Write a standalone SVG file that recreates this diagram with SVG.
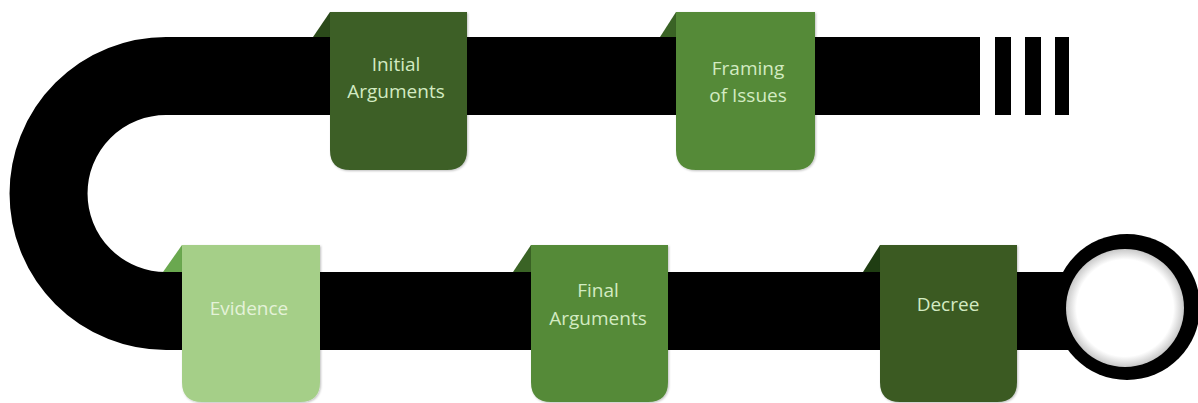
<svg xmlns="http://www.w3.org/2000/svg" width="1198" height="403" viewBox="0 0 1198 403">
<style>
.lbl{font-family:"Open Sans","Liberation Sans",sans-serif;font-size:19px;fill:#D3EBC2;text-anchor:middle}
.band{fill:none;stroke:#000;stroke-width:78}
</style>
<defs>
<radialGradient id="hole" cx="0.5" cy="0.5" r="0.5">
<stop offset="0.82" stop-color="#ffffff"/>
<stop offset="1" stop-color="#c8c8c8"/>
</radialGradient>
<filter id="sh" x="-10%" y="-10%" width="130%" height="130%">
<feDropShadow dx="1" dy="1" stdDeviation="1" flood-color="#000" flood-opacity="0.25"/>
</filter>
</defs>
<rect width="1198" height="403" fill="#fff"/>
<g id="track">
<path class="band" d="M980 76 H166 A117.5 117.5 0 0 0 166 311 H1080"/>
<rect x="995" y="37" width="16" height="78" fill="#000"/>
<rect x="1025" y="37" width="16" height="78" fill="#000"/>
<rect x="1055" y="37" width="14" height="78" fill="#000"/>
<circle cx="1127" cy="307" r="73" fill="#000"/>
<circle cx="1125" cy="308" r="59" fill="url(#hole)"/>
</g>
<g id="initial-arguments">
<polygon points="313,37 330,12 330,37" fill="#2B4A1A"/>
<path d="M330 12 H467 V150 Q467 170 447 170 H350 Q330 170 330 150 Z" fill="#3E5F28" filter="url(#sh)"/>
<text class="lbl" x="396" y="71">Initial</text>
<text class="lbl" x="396" y="98">Arguments</text>
</g>
<g id="framing-of-issues">
<polygon points="660,37 676,12 676,37" fill="#3A6325"/>
<path d="M676 12 H815 V150 Q815 170 795 170 H696 Q676 170 676 150 Z" fill="#558A38" filter="url(#sh)"/>
<text class="lbl" x="748" y="75">Framing</text>
<text class="lbl" x="748" y="102">of Issues</text>
</g>
<g id="evidence">
<polygon points="163,272 182,245 182,272" fill="#6AA84F"/>
<path d="M182 245 H320 V382 Q320 402 300 402 H202 Q182 402 182 382 Z" fill="#A5CF88" filter="url(#sh)"/>
<text class="lbl" x="249" y="315" style="fill:#E4F2D8">Evidence</text>
</g>
<g id="final-arguments">
<polygon points="513,272 531,245 531,272" fill="#3A6325"/>
<path d="M531 245 H668 V382 Q668 402 648 402 H551 Q531 402 531 382 Z" fill="#558A38" filter="url(#sh)"/>
<text class="lbl" x="598" y="297">Final</text>
<text class="lbl" x="598" y="325">Arguments</text>
</g>
<g id="decree">
<polygon points="863,272 880,245 880,272" fill="#1F3D12"/>
<path d="M880 245 H1017 V382 Q1017 402 997 402 H900 Q880 402 880 382 Z" fill="#3A5A24" filter="url(#sh)"/>
<text class="lbl" x="948" y="311">Decree</text>
</g>
</svg>
